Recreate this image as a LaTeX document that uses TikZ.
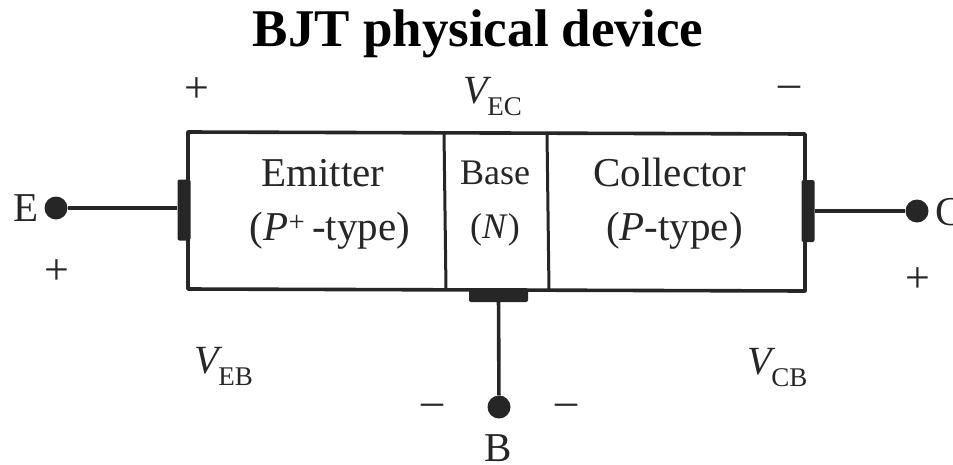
\documentclass[tikz,border=0pt]{standalone}
\usepackage{fontspec}
\setmainfont{Liberation Serif}
\newcommand{\vsub}[1]{\textit{V}\hspace{-4pt}\raisebox{-12.5pt}{\fontsize{27}{30}\selectfont #1}}
\tikzset{
  lbl/.style={inner sep=0pt,text=black!85,font=\fontsize{41}{44}\selectfont},
  vlbl/.style={inner sep=0pt,text=black!85,font=\fontsize{40}{44}\selectfont,anchor=base west},
  sgn/.style={inner sep=0pt,text=black!85,font=\fontsize{44}{48}\selectfont},
  wire/.style={line width=3.6pt,black!85},
  contact/.style={fill=black!85,draw=none,inner sep=0pt,rounded corners=2pt},
  term/.style={circle,fill=black!85,inner sep=0pt,minimum size=23pt}
}
\begin{document}
\begin{tikzpicture}[x=1pt,y=-1pt,every node/.append style={anchor=center}]
\useasboundingbox[clip] (0,0) rectangle (953,464);
\node[inner sep=0pt,font=\bfseries\fontsize{53}{56}\selectfont] (title) at (478,34) {BJT physical device};
% device body
\coordinate (tl) at (188,132);
\coordinate (tr) at (805,134);
\coordinate (bl) at (188,289);
\coordinate (br) at (805,291);
\draw[wire,line join=round] (tl) -- (tr) -- (br) -- (bl) -- cycle;
\coordinate (j1t) at (444,132);
\coordinate (j1b) at (446,290);
\coordinate (j2t) at (547,133);
\coordinate (j2b) at (549,291);
\draw[wire,line width=3pt] (j1t) -- (j1b);
\draw[wire,line width=3pt] (j2t) -- (j2b);
% contacts
\node[contact,minimum width=13pt,minimum height=61pt] (ce) at (184,210) {};
\node[contact,minimum width=13pt,minimum height=62pt] (cc) at (808,211) {};
\node[contact,minimum width=59pt,minimum height=14pt] (cb) at (498.5,295) {};
% terminals
\node[term] (E) at (56,208) {};
\node[term] (C) at (917,211) {};
\node[term] (B) at (499,407) {};
\draw[wire] (E) -- (ce.west |- E);
\draw[wire] (C) -- (cc.east |- C);
\draw[wire] (B) -- (cb);
% labels
\node[lbl] (le) at (26,208) {E};
\node[lbl,anchor=west] (lc) at (935,212) {C};
\node[lbl] (lb) at (498,448) {B};
\node[lbl,align=center] (em) at (330,204) {Emitter\hspace*{14pt}\\[10pt](\textit{P}\textsuperscript{+}\,-type)};
\node[lbl,align=center,font=\fontsize{36}{44}\selectfont] (ba) at (495,204) {Base\\[10pt](\textit{N})};
\node[lbl,align=center] (co) at (672,204) {Collector\hspace*{5pt}\\[10pt]\hspace*{5pt}(\textit{P}-type)};
\node[vlbl] (vec) at (463,103) {\vsub{EC}};
\node[vlbl] (veb) at (194,373) {\vsub{EB}};
\node[vlbl] (vcb) at (747,374) {\vsub{CB}};
\node[sgn] (p1) at (197,90) {+};
\node[sgn] (m1) at (789,92) {--};
\node[sgn] (p2) at (57,272) {+};
\node[sgn] (p3) at (918,280) {+};
\node[sgn] (m2) at (432,410) {--};
\node[sgn] (m3) at (566,410) {--};
\end{tikzpicture}
\end{document}
